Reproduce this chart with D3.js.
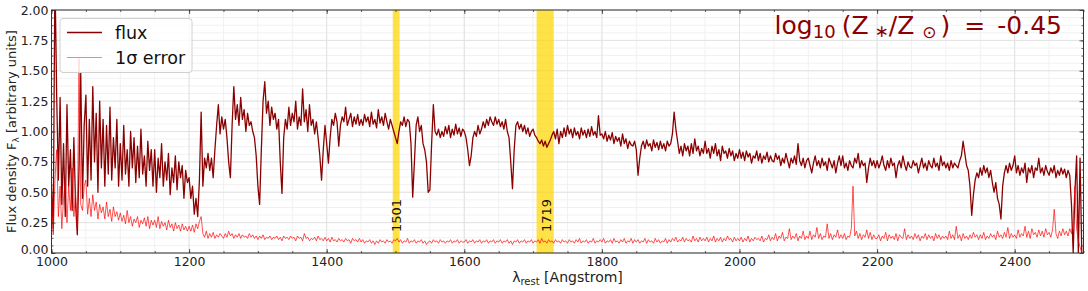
<!DOCTYPE html>
<html>
<head>
<meta charset="utf-8">
<script src="https://cdn.jsdelivr.net/npm/d3@7"></script>
<style>
  body { margin: 0; background: #fff; }
  text { font-family: "DejaVu Sans", sans-serif; }
</style>
</head>
<body>
<div id="chart"></div>
<script>
// rest-frame wavelength grid [Angstrom], 2.5 A sampling
var wave = [
  1000,1002.5,1005,1007.5,1010,1012.5,1015,1017.5,1020,1022.5,1025,1027.5,1030,1032.5,1035,1037.5,1040,1042.5,1045,1047.5,
  1050,1052.5,1055,1057.5,1060,1062.5,1065,1067.5,1070,1072.5,1075,1077.5,1080,1082.5,1085,1087.5,1090,1092.5,1095,1097.5,
  1100,1102.5,1105,1107.5,1110,1112.5,1115,1117.5,1120,1122.5,1125,1127.5,1130,1132.5,1135,1137.5,1140,1142.5,1145,1147.5,
  1150,1152.5,1155,1157.5,1160,1162.5,1165,1167.5,1170,1172.5,1175,1177.5,1180,1182.5,1185,1187.5,1190,1192.5,1195,1197.5,
  1200,1202.5,1205,1207.5,1210,1212.5,1215,1217.5,1220,1222.5,1225,1227.5,1230,1232.5,1235,1237.5,1240,1242.5,1245,1247.5,
  1250,1252.5,1255,1257.5,1260,1262.5,1265,1267.5,1270,1272.5,1275,1277.5,1280,1282.5,1285,1287.5,1290,1292.5,1295,1297.5,
  1300,1302.5,1305,1307.5,1310,1312.5,1315,1317.5,1320,1322.5,1325,1327.5,1330,1332.5,1335,1337.5,1340,1342.5,1345,1347.5,
  1350,1352.5,1355,1357.5,1360,1362.5,1365,1367.5,1370,1372.5,1375,1377.5,1380,1382.5,1385,1387.5,1390,1392.5,1395,1397.5,
  1400,1402.5,1405,1407.5,1410,1412.5,1415,1417.5,1420,1422.5,1425,1427.5,1430,1432.5,1435,1437.5,1440,1442.5,1445,1447.5,
  1450,1452.5,1455,1457.5,1460,1462.5,1465,1467.5,1470,1472.5,1475,1477.5,1480,1482.5,1485,1487.5,1490,1492.5,1495,1497.5,
  1500,1502.5,1505,1507.5,1510,1512.5,1515,1517.5,1520,1522.5,1525,1527.5,1530,1532.5,1535,1537.5,1540,1542.5,1545,1547.5,
  1550,1552.5,1555,1557.5,1560,1562.5,1565,1567.5,1570,1572.5,1575,1577.5,1580,1582.5,1585,1587.5,1590,1592.5,1595,1597.5,
  1600,1602.5,1605,1607.5,1610,1612.5,1615,1617.5,1620,1622.5,1625,1627.5,1630,1632.5,1635,1637.5,1640,1642.5,1645,1647.5,
  1650,1652.5,1655,1657.5,1660,1662.5,1665,1667.5,1670,1672.5,1675,1677.5,1680,1682.5,1685,1687.5,1690,1692.5,1695,1697.5,
  1700,1702.5,1705,1707.5,1710,1712.5,1715,1717.5,1720,1722.5,1725,1727.5,1730,1732.5,1735,1737.5,1740,1742.5,1745,1747.5,
  1750,1752.5,1755,1757.5,1760,1762.5,1765,1767.5,1770,1772.5,1775,1777.5,1780,1782.5,1785,1787.5,1790,1792.5,1795,1797.5,
  1800,1802.5,1805,1807.5,1810,1812.5,1815,1817.5,1820,1822.5,1825,1827.5,1830,1832.5,1835,1837.5,1840,1842.5,1845,1847.5,
  1850,1852.5,1855,1857.5,1860,1862.5,1865,1867.5,1870,1872.5,1875,1877.5,1880,1882.5,1885,1887.5,1890,1892.5,1895,1897.5,
  1900,1902.5,1905,1907.5,1910,1912.5,1915,1917.5,1920,1922.5,1925,1927.5,1930,1932.5,1935,1937.5,1940,1942.5,1945,1947.5,
  1950,1952.5,1955,1957.5,1960,1962.5,1965,1967.5,1970,1972.5,1975,1977.5,1980,1982.5,1985,1987.5,1990,1992.5,1995,1997.5,
  2000,2002.5,2005,2007.5,2010,2012.5,2015,2017.5,2020,2022.5,2025,2027.5,2030,2032.5,2035,2037.5,2040,2042.5,2045,2047.5,
  2050,2052.5,2055,2057.5,2060,2062.5,2065,2067.5,2070,2072.5,2075,2077.5,2080,2082.5,2085,2087.5,2090,2092.5,2095,2097.5,
  2100,2102.5,2105,2107.5,2110,2112.5,2115,2117.5,2120,2122.5,2125,2127.5,2130,2132.5,2135,2137.5,2140,2142.5,2145,2147.5,
  2150,2152.5,2155,2157.5,2160,2162.5,2165,2167.5,2170,2172.5,2175,2177.5,2180,2182.5,2185,2187.5,2190,2192.5,2195,2197.5,
  2200,2202.5,2205,2207.5,2210,2212.5,2215,2217.5,2220,2222.5,2225,2227.5,2230,2232.5,2235,2237.5,2240,2242.5,2245,2247.5,
  2250,2252.5,2255,2257.5,2260,2262.5,2265,2267.5,2270,2272.5,2275,2277.5,2280,2282.5,2285,2287.5,2290,2292.5,2295,2297.5,
  2300,2302.5,2305,2307.5,2310,2312.5,2315,2317.5,2320,2322.5,2325,2327.5,2330,2332.5,2335,2337.5,2340,2342.5,2345,2347.5,
  2350,2352.5,2355,2357.5,2360,2362.5,2365,2367.5,2370,2372.5,2375,2377.5,2380,2382.5,2385,2387.5,2390,2392.5,2395,2397.5,
  2400,2402.5,2405,2407.5,2410,2412.5,2415,2417.5,2420,2422.5,2425,2427.5,2430,2432.5,2435,2437.5,2440,2442.5,2445,2447.5,
  2450,2452.5,2455,2457.5,2460,2462.5,2465,2467.5,2470,2472.5,2475,2477.5,2480,2482.5,2485,2487.5,2490,2492.5,2495,2497.5
];

// flux density (arbitrary units)
var flux = [
  0.55,0.20,2.30,1.30,0.60,1.28,0.40,0.90,0.30,1.22,0.55,0.85,0.35,0.95,0.40,0.15,0.70,1.48,0.45,1.05,
  1.30,0.55,1.10,0.60,1.37,0.75,1.15,0.50,1.25,0.70,1.10,0.55,1.05,0.65,1.20,0.60,0.95,0.70,1.10,0.55,
  0.90,0.60,1.05,0.65,0.85,0.55,1.00,0.70,0.95,0.58,0.88,0.62,1.02,0.65,0.80,0.55,0.92,0.68,0.85,0.55,
  0.85,0.50,0.78,0.62,0.90,0.55,0.75,0.60,0.82,0.48,0.70,0.58,0.80,0.52,0.75,0.62,0.72,0.45,0.68,0.58,
  0.62,0.45,0.55,0.32,0.45,0.30,0.60,1.16,0.55,0.78,0.70,0.82,0.68,0.78,0.62,0.85,1.05,1.22,0.98,1.12,
  1.02,1.10,0.95,0.75,0.62,1.05,1.37,1.10,1.22,1.05,1.28,1.10,1.18,1.00,1.15,1.05,1.08,1.00,0.95,0.80,
  0.55,0.40,0.85,1.25,1.41,1.15,1.25,1.05,1.20,1.10,1.15,1.02,1.10,0.75,0.49,0.95,1.10,1.02,1.20,1.05,
  1.15,1.08,1.25,1.02,1.12,1.05,1.35,1.08,1.18,1.00,1.22,1.05,1.10,0.98,1.08,0.95,0.80,0.60,0.85,1.05,
  0.90,0.74,0.95,1.10,1.05,1.15,1.08,0.88,1.05,1.12,1.08,1.20,1.05,1.10,1.15,1.04,1.12,1.06,1.14,1.05,
  1.10,1.05,1.14,1.08,1.12,1.04,1.16,1.06,1.10,1.03,1.18,1.07,1.12,1.05,1.15,1.08,1.02,1.10,1.05,1.00,
  0.95,0.90,1.00,1.08,1.05,1.12,1.04,1.10,1.08,0.90,0.46,0.75,1.05,1.12,1.00,1.05,0.90,0.85,0.75,0.50,
  0.52,0.90,1.22,1.00,0.97,1.02,0.95,1.00,0.96,1.04,0.98,1.05,0.95,1.02,0.97,1.06,0.98,1.03,0.96,1.02,
  1.00,0.95,0.85,0.72,0.80,0.95,1.00,0.96,1.05,0.98,1.02,1.08,1.03,1.10,1.05,1.12,1.08,1.05,1.12,1.06,
  1.10,1.04,1.08,1.02,1.10,1.00,0.95,0.75,0.53,0.85,1.05,1.08,1.02,1.06,1.00,1.05,0.98,1.03,0.96,1.00,
  1.02,0.97,0.95,0.92,0.90,0.93,0.88,0.92,0.87,0.90,0.93,0.97,1.00,0.94,1.02,0.90,1.00,0.95,1.03,0.96,
  1.05,0.98,1.02,0.95,1.03,0.97,1.00,0.94,1.03,0.97,1.01,0.95,1.02,0.96,1.04,0.97,1.00,0.95,1.13,0.97,
  0.98,0.94,1.00,0.92,0.97,0.93,0.99,0.90,0.96,0.92,0.95,0.88,0.98,0.90,0.94,0.86,0.92,0.89,0.88,0.92,
  0.85,0.64,0.78,0.88,0.92,0.86,0.93,0.88,0.90,0.84,0.93,0.87,0.91,0.85,0.92,0.86,0.90,0.84,0.92,0.88,
  0.90,0.98,1.16,1.02,0.92,0.82,0.88,0.80,0.90,0.84,0.88,0.80,0.90,0.82,0.94,0.84,0.88,0.80,0.86,0.82,
  0.92,0.82,0.86,0.78,0.88,0.82,0.90,0.80,0.85,0.76,0.88,0.82,0.84,0.78,0.86,0.80,0.84,0.76,0.82,0.78,
  0.85,0.78,0.83,0.76,0.84,0.79,0.82,0.74,0.80,0.78,0.84,0.76,0.82,0.74,0.80,0.77,0.83,0.75,0.80,0.76,
  0.75,0.82,0.77,0.80,0.72,0.78,0.74,0.82,0.76,0.70,0.78,0.74,0.80,0.73,0.90,0.76,0.72,0.78,0.70,0.76,
  0.78,0.72,0.66,0.74,0.80,0.72,0.76,0.70,0.78,0.72,0.75,0.68,0.78,0.74,0.70,0.76,0.66,0.74,0.80,0.72,
  0.80,0.70,0.74,0.68,0.76,0.72,0.70,0.78,0.74,0.82,0.70,0.76,0.72,0.74,0.58,0.70,0.78,0.72,0.76,0.70,
  0.76,0.70,0.74,0.80,0.72,0.68,0.76,0.70,0.78,0.72,0.74,0.62,0.72,0.76,0.70,0.80,0.73,0.68,0.75,0.71,
  0.70,0.76,0.72,0.74,0.66,0.72,0.78,0.70,0.74,0.68,0.76,0.72,0.70,0.78,0.71,0.74,0.68,0.80,0.72,0.75,
  0.70,0.74,0.68,0.76,0.70,0.74,0.72,0.70,0.76,0.80,0.92,0.82,0.72,0.68,0.55,0.31,0.48,0.60,0.66,0.62,
  0.70,0.64,0.72,0.66,0.70,0.62,0.68,0.58,0.50,0.58,0.45,0.40,0.28,0.55,0.66,0.72,0.66,0.74,0.68,0.72,
  0.80,0.66,0.72,0.64,0.70,0.66,0.74,0.58,0.70,0.66,0.72,0.62,0.70,0.68,0.78,0.66,0.70,0.64,0.72,0.67,
  0.64,0.70,0.66,0.72,0.62,0.68,0.64,0.70,0.65,0.69,0.62,0.68,0.64,0.40,0.00,0.50,0.80,0.00,0.78,0.00
];

// 1 sigma error
var fluxErr = [
  0.50,0.15,0.60,0.85,0.30,0.55,0.20,0.45,0.60,0.25,0.55,0.35,0.70,0.30,0.50,0.22,1.60,0.40,0.35,0.55,
  0.60,0.32,0.45,0.30,0.48,0.35,0.42,0.28,0.40,0.33,0.38,0.28,0.42,0.30,0.36,0.26,0.38,0.30,0.34,0.27,
  0.33,0.26,0.31,0.24,0.35,0.25,0.30,0.22,0.28,0.25,0.30,0.21,0.27,0.24,0.29,0.22,0.30,0.20,0.27,0.23,
  0.27,0.21,0.30,0.20,0.26,0.22,0.25,0.19,0.27,0.21,0.24,0.18,0.25,0.20,0.23,0.18,0.24,0.19,0.22,0.18,
  0.22,0.18,0.23,0.17,0.24,0.20,0.26,0.30,0.16,0.13,0.18,0.12,0.16,0.13,0.17,0.12,0.15,0.13,0.16,0.14,
  0.12,0.16,0.13,0.18,0.14,0.16,0.12,0.15,0.13,0.16,0.12,0.15,0.13,0.14,0.12,0.16,0.13,0.15,0.12,0.14,
  0.11,0.14,0.12,0.15,0.11,0.13,0.12,0.14,0.11,0.13,0.12,0.14,0.11,0.13,0.10,0.14,0.12,0.13,0.11,0.14,
  0.12,0.13,0.10,0.14,0.12,0.13,0.10,0.16,0.12,0.13,0.10,0.12,0.11,0.13,0.10,0.14,0.11,0.12,0.10,0.13,
  0.10,0.12,0.09,0.13,0.10,0.11,0.09,0.12,0.10,0.11,0.09,0.12,0.10,0.11,0.08,0.12,0.10,0.11,0.09,0.12,
  0.09,0.11,0.08,0.10,0.09,0.11,0.08,0.10,0.07,0.10,0.08,0.11,0.09,0.10,0.08,0.11,0.09,0.10,0.08,0.11,
  0.10,0.12,0.09,0.11,0.08,0.10,0.09,0.12,0.08,0.10,0.09,0.11,0.08,0.10,0.09,0.11,0.08,0.10,0.07,0.09,
  0.10,0.08,0.11,0.09,0.10,0.08,0.11,0.09,0.10,0.08,0.10,0.09,0.11,0.08,0.10,0.09,0.11,0.08,0.10,0.09,
  0.09,0.11,0.08,0.10,0.09,0.11,0.08,0.10,0.09,0.11,0.08,0.10,0.09,0.11,0.08,0.10,0.09,0.11,0.08,0.10,
  0.09,0.11,0.08,0.10,0.09,0.11,0.08,0.10,0.07,0.10,0.09,0.11,0.08,0.10,0.09,0.11,0.08,0.10,0.09,0.11,
  0.08,0.10,0.09,0.11,0.08,0.12,0.09,0.10,0.08,0.11,0.09,0.10,0.08,0.11,0.09,0.10,0.08,0.11,0.09,0.10,
  0.08,0.11,0.09,0.10,0.08,0.11,0.09,0.12,0.08,0.10,0.09,0.11,0.08,0.10,0.09,0.12,0.08,0.10,0.09,0.11,
  0.09,0.12,0.08,0.10,0.09,0.11,0.08,0.12,0.09,0.10,0.08,0.11,0.09,0.12,0.08,0.10,0.09,0.12,0.08,0.11,
  0.09,0.11,0.08,0.10,0.09,0.12,0.08,0.11,0.09,0.10,0.08,0.12,0.09,0.11,0.08,0.10,0.09,0.12,0.08,0.11,
  0.09,0.12,0.10,0.13,0.09,0.11,0.10,0.13,0.09,0.12,0.10,0.11,0.09,0.14,0.10,0.12,0.09,0.13,0.10,0.12,
  0.10,0.13,0.09,0.12,0.10,0.14,0.09,0.12,0.10,0.13,0.09,0.12,0.10,0.14,0.11,0.12,0.09,0.13,0.10,0.12,
  0.10,0.13,0.09,0.12,0.10,0.14,0.09,0.12,0.10,0.13,0.11,0.12,0.10,0.14,0.09,0.12,0.11,0.15,0.10,0.13,
  0.11,0.16,0.10,0.14,0.12,0.17,0.10,0.13,0.12,0.20,0.11,0.14,0.12,0.16,0.10,0.14,0.12,0.18,0.11,0.14,
  0.12,0.18,0.11,0.15,0.13,0.21,0.12,0.16,0.11,0.14,0.13,0.24,0.12,0.16,0.11,0.15,0.13,0.19,0.12,0.15,
  0.12,0.16,0.11,0.14,0.13,0.20,0.55,0.14,0.18,0.12,0.16,0.11,0.15,0.13,0.19,0.12,0.17,0.11,0.15,0.12,
  0.12,0.15,0.10,0.14,0.12,0.17,0.10,0.15,0.12,0.14,0.11,0.16,0.10,0.15,0.13,0.12,0.20,0.11,0.15,0.12,
  0.14,0.11,0.16,0.12,0.15,0.10,0.14,0.12,0.16,0.11,0.15,0.12,0.14,0.10,0.16,0.12,0.15,0.11,0.14,0.12,
  0.14,0.11,0.18,0.12,0.15,0.11,0.22,0.12,0.15,0.10,0.16,0.12,0.14,0.11,0.15,0.12,0.17,0.13,0.15,0.11,
  0.15,0.12,0.17,0.11,0.14,0.12,0.16,0.13,0.15,0.11,0.18,0.13,0.15,0.12,0.17,0.13,0.21,0.12,0.16,0.13,
  0.15,0.12,0.19,0.13,0.16,0.14,0.22,0.13,0.18,0.12,0.20,0.15,0.17,0.13,0.19,0.14,0.18,0.13,0.20,0.15,
  0.17,0.13,0.19,0.36,0.16,0.12,0.18,0.14,0.20,0.15,0.18,0.14,0.20,0.16,0.25,0.55,0.20,0.10,0.05,0.00
];

// highlighted windows and their labels
var bandLabels = [1501, 1719];
var bandStart  = [1496, 1705];
var bandEnd    = [1506, 1730];

var xTicks = [1000, 1200, 1400, 1600, 1800, 2000, 2200, 2400];
var yTicks = [0, 0.25, 0.5, 0.75, 1.0, 1.25, 1.5, 1.75, 2.0];

var width = 1088, height = 291;
var margin = {top: 10, right: 4.5, bottom: 38, left: 51.5};

var svg = d3.select('#chart').append('svg')
    .attr('width', width)
    .attr('height', height);

var x = d3.scaleLinear().domain([1000, 2500]).range([margin.left, width - margin.right]);
var y = d3.scaleLinear().domain([0, 2]).range([height - margin.bottom, margin.top]);

var x0 = x.range()[0], x1 = x.range()[1];
var y0 = y.range()[0], y1 = y.range()[1];

// minor + major grid
var xMinor = d3.range(1000, 2501, 50);
var yMinor = d3.range(0, 2.0001, 0.0625);

var grid = svg.append('g');
grid.selectAll('.xm').data(xMinor).enter().append('line')
    .attr('x1', d => x(d)).attr('x2', d => x(d))
    .attr('y1', y0).attr('y2', y1)
    .attr('stroke', '#f1f1f1').attr('stroke-width', 1);
grid.selectAll('.ym').data(yMinor).enter().append('line')
    .attr('y1', d => y(d)).attr('y2', d => y(d))
    .attr('x1', x0).attr('x2', x1)
    .attr('stroke', '#f1f1f1').attr('stroke-width', 1);
grid.selectAll('.xM').data(xTicks).enter().append('line')
    .attr('x1', d => x(d)).attr('x2', d => x(d))
    .attr('y1', y0).attr('y2', y1)
    .attr('stroke', '#e2e2e2').attr('stroke-width', 1);
grid.selectAll('.yM').data(yTicks).enter().append('line')
    .attr('y1', d => y(d)).attr('y2', d => y(d))
    .attr('x1', x0).attr('x2', x1)
    .attr('stroke', '#e2e2e2').attr('stroke-width', 1);

// clip for the spectrum
svg.append('clipPath').attr('id', 'plotclip')
  .append('rect')
    .attr('x', x0).attr('y', y1)
    .attr('width', x1 - x0).attr('height', y0 - y1);

// yellow windows
svg.append('g').selectAll('rect')
    .data(bandLabels)
    .enter().append('rect')
    .attr('x', (d, i) => x(bandStart[i]))
    .attr('width', (d, i) => x(bandEnd[i]) - x(bandStart[i]))
    .attr('y', y1)
    .attr('height', y0 - y1)
    .attr('fill', '#ffd700')
    .attr('fill-opacity', 0.72);

var plot = svg.append('g').attr('clip-path', 'url(#plotclip)');

var specLine = d3.line()
    .x((d, i) => x(wave[i]))
    .y(d => y(d));

plot.append('path')
    .datum(flux)
    .attr('d', specLine)
    .attr('fill', 'none')
    .attr('stroke', '#8b0000')
    .attr('stroke-width', 1.3)
    .attr('stroke-linejoin', 'round');

plot.append('path')
    .datum(fluxErr)
    .attr('d', specLine)
    .attr('fill', 'none')
    .attr('stroke', '#ff0000')
    .attr('stroke-opacity', 0.85)
    .attr('stroke-width', 0.8)
    .attr('stroke-linejoin', 'round');

// band labels
svg.append('g').selectAll('text')
    .data(bandLabels)
    .enter().append('text')
    .attr('transform', d => 'translate(' + x(d) + ',' + (y0 - 21) + ') rotate(-90)')
    .attr('dominant-baseline', 'central')
    .attr('font-size', 13)
    .attr('fill', '#111')
    .text(d => d);

// axes with inward ticks on all sides
function styleAxis(g) {
    g.select('.domain').remove();
    g.selectAll('.tick line').attr('stroke', '#333').attr('stroke-width', 0.8);
    g.selectAll('.tick text').attr('font-size', 12.5).attr('fill', '#222')
        .attr('font-family', '"DejaVu Sans", sans-serif');
}

svg.append('g')
    .attr('transform', 'translate(0,' + y0 + ')')
    .call(d3.axisBottom(x).tickValues(xMinor).tickSize(-2).tickFormat(''))
    .call(styleAxis);
svg.append('g')
    .attr('transform', 'translate(0,' + y0 + ')')
    .call(d3.axisBottom(x).tickValues(xTicks).tickSize(-4).tickPadding(4).tickFormat(d3.format('d')))
    .call(styleAxis);
svg.append('g')
    .attr('transform', 'translate(0,' + y1 + ')')
    .call(d3.axisTop(x).tickValues(xMinor).tickSize(-2).tickFormat(''))
    .call(styleAxis);
svg.append('g')
    .attr('transform', 'translate(0,' + y1 + ')')
    .call(d3.axisTop(x).tickValues(xTicks).tickSize(-4).tickFormat(''))
    .call(styleAxis);

svg.append('g')
    .attr('transform', 'translate(' + x0 + ',0)')
    .call(d3.axisLeft(y).tickValues(yMinor).tickSize(-2).tickFormat(''))
    .call(styleAxis);
var yAxisG = svg.append('g')
    .attr('transform', 'translate(' + x0 + ',0)')
    .call(d3.axisLeft(y).tickValues(yTicks).tickSize(-4).tickPadding(3).tickFormat(d3.format('.2f')))
    .call(styleAxis);
// lift the bottom label a touch so it clears the x tick labels
yAxisG.selectAll('.tick text').filter(d => d === 0).attr('dy', '0em');
svg.append('g')
    .attr('transform', 'translate(' + x1 + ',0)')
    .call(d3.axisRight(y).tickValues(yMinor).tickSize(-2).tickFormat(''))
    .call(styleAxis);
svg.append('g')
    .attr('transform', 'translate(' + x1 + ',0)')
    .call(d3.axisRight(y).tickValues(yTicks).tickSize(-4).tickFormat(''))
    .call(styleAxis);

// frame
svg.append('rect')
    .attr('x', x0).attr('y', y1)
    .attr('width', x1 - x0).attr('height', y0 - y1)
    .attr('fill', 'none')
    .attr('stroke', '#333')
    .attr('stroke-width', 1);

// axis labels
var xl = svg.append('text')
    .attr('x', (x0 + x1) / 2)
    .attr('y', 281.5)
    .attr('text-anchor', 'middle')
    .attr('font-size', 14)
    .attr('fill', '#222');
xl.append('tspan').text('λ');
xl.append('tspan').attr('font-size', 10).attr('dy', 3).text('rest');
xl.append('tspan').attr('dy', -3).text(' [Angstrom]');

var yl = svg.append('text')
    .attr('transform', 'translate(16,' + ((y0 + y1) / 2) + ') rotate(-90)')
    .attr('text-anchor', 'middle')
    .attr('font-size', 13)
    .attr('fill', '#222');
yl.append('tspan').text('Flux density F');
yl.append('tspan').attr('font-size', 9).attr('dy', 3).text('λ');
yl.append('tspan').attr('dy', -3).text(' [arbitrary units]');

// legend
var legend = svg.append('g');
legend.append('rect')
    .attr('x', 60).attr('y', 18.5)
    .attr('width', 132).attr('height', 54)
    .attr('rx', 3)
    .attr('fill', '#fff').attr('fill-opacity', 0.8)
    .attr('stroke', '#d0d0d0').attr('stroke-width', 1);
legend.append('line')
    .attr('x1', 67).attr('x2', 102).attr('y1', 32.5).attr('y2', 32.5)
    .attr('stroke', '#8b0000').attr('stroke-width', 1.5);
legend.append('text')
    .attr('x', 115).attr('y', 38.5)
    .attr('font-size', 17.5).attr('fill', '#111')
    .text('flux');
legend.append('line')
    .attr('x1', 67).attr('x2', 102).attr('y1', 57.5).attr('y2', 57.5)
    .attr('stroke', '#ff0000').attr('stroke-opacity', 0.5).attr('stroke-width', 1);
legend.append('text')
    .attr('x', 115).attr('y', 63.5)
    .attr('font-size', 17.5).attr('fill', '#111')
    .text('1σ error');

// metallicity annotation
var ann = svg.append('text')
    .attr('x', 1062)
    .attr('y', 34)
    .attr('text-anchor', 'end')
    .attr('font-size', 25)
    .attr('fill', '#8b0000');
ann.append('tspan').text('log');
ann.append('tspan').attr('font-size', 18).attr('dy', 4).text('10');
ann.append('tspan').attr('dx', 6).attr('dy', -4).text('(Z');
ann.append('tspan').attr('font-size', 17).attr('dx', 6).attr('dy', 3).text('∗');
ann.append('tspan').attr('dy', -3).text('/Z');
ann.append('tspan').attr('font-size', 17).attr('dx', 8).attr('dy', 4).text('⊙');
ann.append('tspan').attr('dx', 4).attr('dy', -4).text(')');
ann.append('tspan').attr('dx', 14).text('=');
ann.append('tspan').attr('dx', 12).text('-0.45');
</script>
</body>
</html>
